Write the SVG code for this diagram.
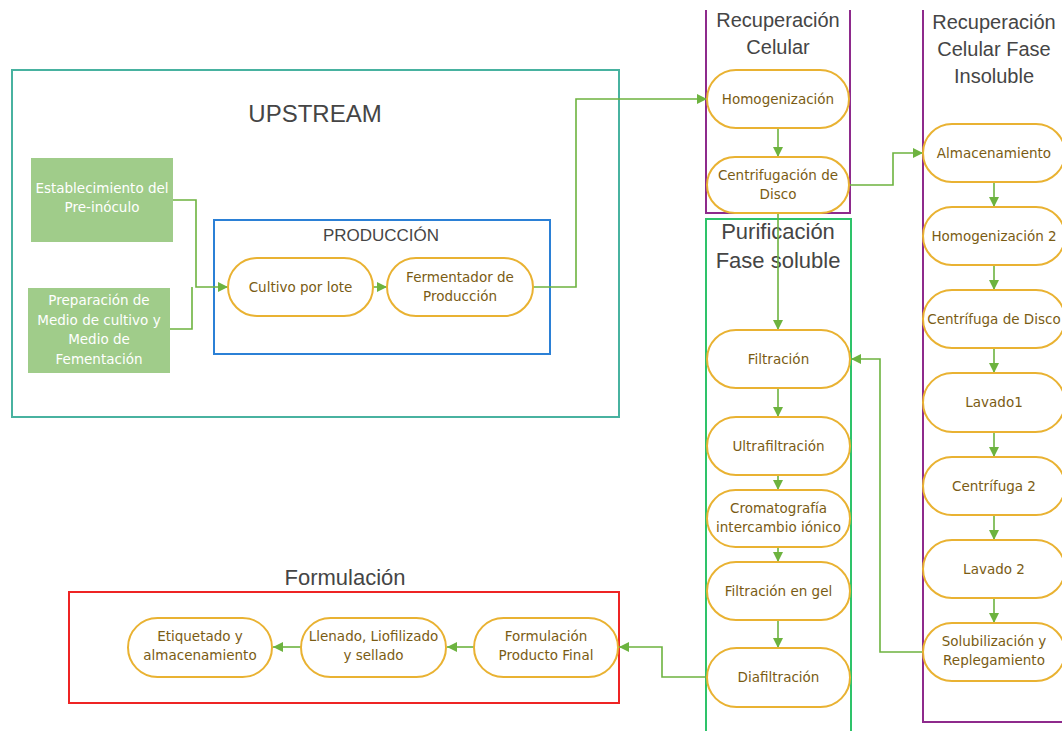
<svg xmlns="http://www.w3.org/2000/svg" width="1062" height="731" viewBox="0 0 1062 731">
<style>
.pill{fill:#ffffff;stroke:#e9b232;stroke-width:2}
.t{font-family:"DejaVu Sans",sans-serif;font-size:13.5px;fill:#7a5c14;text-anchor:middle}
.tw{font-family:"DejaVu Sans",sans-serif;font-size:13.5px;fill:#ffffff;text-anchor:middle}
.h{font-family:"Liberation Sans",Arial,sans-serif;fill:#454545;text-anchor:middle}
.g{fill:#a0cc8a}
.c{fill:none;stroke:#6db33f;stroke-width:1.6}
.box{fill:none;stroke-width:2}
</style>
<defs>
<marker id="ah" markerUnits="userSpaceOnUse" markerWidth="10" markerHeight="10" viewBox="0 0 10 10" refX="10" refY="5" orient="auto">
<path d="M0,0 L10,5 L0,10 z" fill="#6db33f"/>
</marker>
</defs>
<rect width="1062" height="731" fill="#ffffff"/>

<g id="containers">
<rect id="upstream" class="box" x="12" y="70" width="607" height="347" stroke="#48b2a0"/>
<text class="h" x="315" y="122" font-size="24">UPSTREAM</text>
<rect id="produccion" class="box" x="214" y="220" width="336" height="134" stroke="#2b80d6"/>
<text class="h" x="381" y="241" font-size="17">PRODUCCIÓN</text>
<path id="rec-celular" class="box" d="M706,10 V213 H850 V10" stroke="#8e2a8c"/>
<text class="h" x="778" y="27" font-size="20">Recuperación</text>
<text class="h" x="778" y="54" font-size="20">Celular</text>
<path id="purificacion" class="box" d="M706,740 V219 H851 V740" stroke="#2ec36a"/>
<text class="h" x="778" y="239" font-size="22">Purificación</text>
<text class="h" x="778" y="268" font-size="22">Fase soluble</text>
<path id="rec-insoluble" class="box" d="M923,10 V722 H1070" stroke="#8e2a8c"/>
<text class="h" x="994" y="29" font-size="20">Recuperación</text>
<text class="h" x="994" y="56" font-size="20">Celular Fase</text>
<text class="h" x="994" y="83" font-size="20">Insoluble</text>
<rect id="formulacion-box" class="box" x="69" y="592" width="550" height="111" stroke="#ee2424"/>
<text class="h" x="345" y="585" font-size="22">Formulación</text>
</g>

<g id="connectors">
<path class="c" d="M170,329 H192 V287"/>
<path class="c" d="M173,200 H196 V287 H228" marker-end="url(#ah)"/>
<path class="c" d="M373,287 H387" marker-end="url(#ah)"/>
<path class="c" d="M533,287 H576 V99 H707" marker-end="url(#ah)"/>
<path class="c" d="M778,128 V157" marker-end="url(#ah)"/>
<path class="c" d="M850,185 H893 V153 H923" marker-end="url(#ah)"/>
<path class="c" d="M778,213 V330" marker-end="url(#ah)"/>
<path class="c" d="M778,388 V417" marker-end="url(#ah)"/>
<path class="c" d="M778,475 V490" marker-end="url(#ah)"/>
<path class="c" d="M778,547 V562" marker-end="url(#ah)"/>
<path class="c" d="M778,620 V648" marker-end="url(#ah)"/>
<path class="c" d="M707,677 H662 V647 H619" marker-end="url(#ah)"/>
<path class="c" d="M474,647 H447" marker-end="url(#ah)"/>
<path class="c" d="M301,647 H273" marker-end="url(#ah)"/>
<path class="c" d="M994,182 V207" marker-end="url(#ah)"/>
<path class="c" d="M994,265 V290" marker-end="url(#ah)"/>
<path class="c" d="M994,348 V373" marker-end="url(#ah)"/>
<path class="c" d="M994,432 V457" marker-end="url(#ah)"/>
<path class="c" d="M994,515 V540" marker-end="url(#ah)"/>
<path class="c" d="M994,598 V623" marker-end="url(#ah)"/>
<path class="c" d="M923,652 H880 V359 H851" marker-end="url(#ah)"/>
</g>

<g id="n-preinoculo">
<rect class="g" x="31" y="158" width="142" height="84"/>
<text class="tw" x="102" y="193">Establecimiento del</text>
<text class="tw" x="102" y="212">Pre-inóculo</text>
</g>
<g id="n-medio">
<rect class="g" x="28" y="288" width="142" height="85"/>
<text class="tw" x="99" y="305">Preparación de</text>
<text class="tw" x="99" y="325">Medio de cultivo y</text>
<text class="tw" x="99" y="344">Medio de</text>
<text class="tw" x="99" y="364">Fementación</text>
</g>
<g id="n-cultivo">
<rect class="pill" x="228" y="258" width="145" height="58" rx="29"/>
<text class="t" x="300.5" y="292">Cultivo por lote</text>
</g>
<g id="n-fermentador">
<rect class="pill" x="387" y="258" width="146" height="58" rx="29"/>
<text class="t" x="460" y="282">Fermentador de</text>
<text class="t" x="460" y="301">Producción</text>
</g>
<g id="n-homog">
<rect class="pill" x="707" y="70" width="142" height="58" rx="29"/>
<text class="t" x="778" y="104">Homogenización</text>
</g>
<g id="n-centrif">
<rect class="pill" x="707" y="157" width="142" height="56" rx="28"/>
<text class="t" x="778" y="180">Centrifugación de</text>
<text class="t" x="778" y="199">Disco</text>
</g>
<g id="n-filtracion">
<rect class="pill" x="707" y="330" width="143" height="58" rx="29"/>
<text class="t" x="778.5" y="364">Filtración</text>
</g>
<g id="n-ultra">
<rect class="pill" x="707" y="417" width="143" height="58" rx="29"/>
<text class="t" x="778.5" y="451">Ultrafiltración</text>
</g>
<g id="n-cromat">
<rect class="pill" x="707" y="490" width="143" height="57" rx="28.5"/>
<text class="t" x="778.5" y="513">Cromatografía</text>
<text class="t" x="778.5" y="532">intercambio iónico</text>
</g>
<g id="n-gel">
<rect class="pill" x="707" y="562" width="143" height="58" rx="29"/>
<text class="t" x="778.5" y="596">Filtración en gel</text>
</g>
<g id="n-diafil">
<rect class="pill" x="707" y="648" width="143" height="59" rx="29.5"/>
<text class="t" x="778.5" y="682">Diafiltración</text>
</g>
<g id="n-almacen">
<rect class="pill" x="923" y="124" width="142" height="58" rx="29"/>
<text class="t" x="994" y="158">Almacenamiento</text>
</g>
<g id="n-homog2">
<rect class="pill" x="923" y="207" width="142" height="58" rx="29"/>
<text class="t" x="994" y="241">Homogenización 2</text>
</g>
<g id="n-centrifuga-disco">
<rect class="pill" x="923" y="290" width="142" height="58" rx="29"/>
<text class="t" x="994" y="324">Centrífuga de Disco</text>
</g>
<g id="n-lavado1">
<rect class="pill" x="923" y="373" width="142" height="59" rx="29.5"/>
<text class="t" x="994" y="407">Lavado1</text>
</g>
<g id="n-centrifuga2">
<rect class="pill" x="923" y="457" width="142" height="58" rx="29"/>
<text class="t" x="994" y="491">Centrífuga 2</text>
</g>
<g id="n-lavado2">
<rect class="pill" x="923" y="540" width="142" height="58" rx="29"/>
<text class="t" x="994" y="574">Lavado 2</text>
</g>
<g id="n-solub">
<rect class="pill" x="923" y="623" width="142" height="58" rx="29"/>
<text class="t" x="994" y="646">Solubilización y</text>
<text class="t" x="994" y="665">Replegamiento</text>
</g>
<g id="n-fpf">
<rect class="pill" x="474" y="618" width="144" height="59" rx="29.5"/>
<text class="t" x="546" y="641">Formulación</text>
<text class="t" x="546" y="660">Producto Final</text>
</g>
<g id="n-llenado">
<rect class="pill" x="301" y="618" width="145" height="59" rx="29.5"/>
<text class="t" x="373.5" y="641">Llenado, Liofilizado</text>
<text class="t" x="373.5" y="660">y sellado</text>
</g>
<g id="n-etiquetado">
<rect class="pill" x="128" y="618" width="144" height="59" rx="29.5"/>
<text class="t" x="200" y="641">Etiquetado y</text>
<text class="t" x="200" y="660">almacenamiento</text>
</g>
</svg>
